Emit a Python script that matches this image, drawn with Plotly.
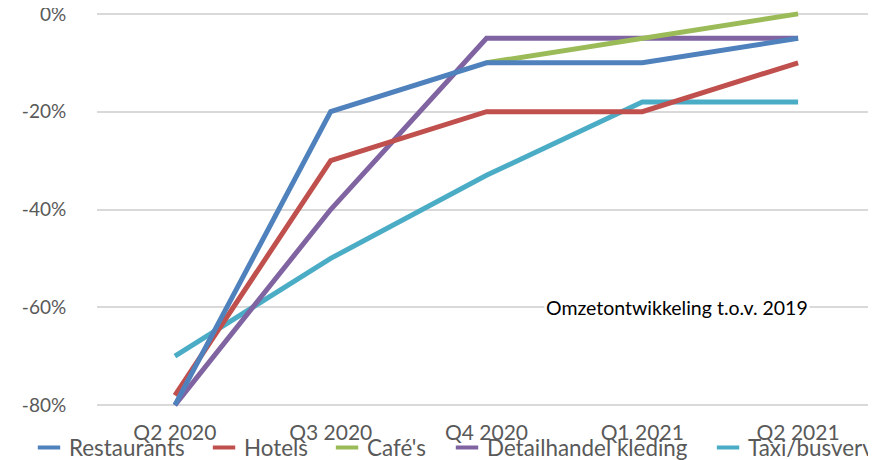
import plotly.graph_objects as go

quarters = ["Q2 2020", "Q3 2020", "Q4 2020", "Q1 2021", "Q2 2021"]
restaurants = [-80, -20, -10, -10, -5]
hotels = [-78, -30, -20, -20, -10]
cafes = [None, None, -10, -5, 0]
detailhandel = [-80, -40, -5, -5, -5]
taxi = [-70, -50, -33, -18, -18]

series_names = ["Restaurants", "Hotels", "Café's", "Detailhandel kleding", "Taxi/busvervoer"]
series_values = [restaurants, hotels, cafes, detailhandel, taxi]
colors = ["#4F81BD", "#C0504D", "#9BBB59", "#8064A2", "#4BACC6"]

y_tickvals = [0, -20, -40, -60, -80]
y_ticktext = ["0%", "-20%", "-40%", "-60%", "-80%"]

annotation_text = "Omzetontwikkeling t.o.v. 2019"

FONT = "Lato"
GREY = "#595959"

# legend anchor positions (paper x) for each entry
legend_x = [-0.0873, 0.1374, 0.2953, 0.4493, 0.7844]
legend_ids = ["legend", "legend2", "legend3", "legend4", "legend5"]

fig = go.Figure()

# data traces drawn in reverse order (first series on top)
for name, vals, col in reversed(list(zip(series_names, series_values, colors))):
    fig.add_trace(go.Scatter(
        x=quarters, y=vals, mode="lines", name=name,
        line=dict(color=col, width=5), connectgaps=False,
        showlegend=False, hoverinfo="skip",
    ))

# legend entries in original order, each in its own legend box
for name, col, lid in zip(series_names, colors, legend_ids):
    fig.add_trace(go.Scatter(
        x=[None], y=[None], mode="markers", name=name,
        marker=dict(symbol="line-ew", size=16, color=col,
                    line=dict(color=col, width=4)),
        showlegend=True, legend=lid,
    ))

legend_common = dict(
    orientation="h", xanchor="left", y=-0.0948, yanchor="middle",
    font=dict(family=FONT, size=22.4, color=GREY),
    bgcolor="rgba(0,0,0,0)", itemwidth=30,
)

layout_legends = {lid: dict(x=lx, **legend_common) for lid, lx in zip(legend_ids, legend_x)}

fig.update_layout(
    width=876, height=460,
    margin=dict(l=89, r=8, t=1, b=58, autoexpand=False),
    paper_bgcolor="white", plot_bgcolor="white",
    font=dict(family=FONT, size=21, color=GREY),
    showlegend=True,
    annotations=[dict(
        text=annotation_text, x=0.7445, xref="paper", y=-60, yref="y",
        xanchor="center", yanchor="middle", showarrow=False,
        font=dict(family=FONT, size=19.5, color="black"),
        bgcolor="white",
    )],
    **layout_legends,
)

fig.update_xaxes(
    type="category", range=[-0.5, 4.5], showgrid=False, showline=False,
    zeroline=False, ticks="outside", ticklen=4, tickcolor="rgba(0,0,0,0)",
    tickfont=dict(family=FONT, size=21, color=GREY),
)
fig.update_yaxes(
    range=[-81, 1], tickvals=y_tickvals, ticktext=y_ticktext,
    showgrid=True, gridcolor="#D9D9D9", gridwidth=2, zeroline=False,
    showline=False, ticks="outside", ticklen=26, tickcolor="rgba(0,0,0,0)",
    ticklabeloverflow="allow",
    tickfont=dict(family=FONT, size=19, color=GREY),
)

fig.write_html("out.html")
